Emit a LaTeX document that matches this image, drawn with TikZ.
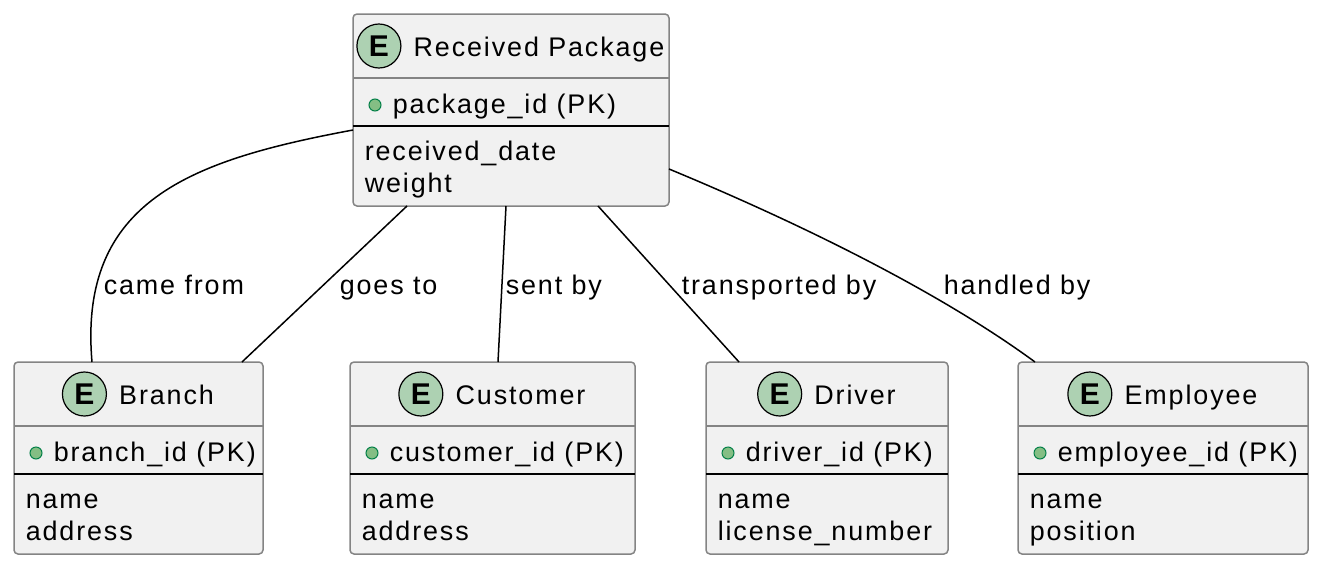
\documentclass[tikz,border=0pt]{standalone}
\usepackage{fontspec}
\setmainfont{Liberation Sans}[LetterSpace=7]
\usetikzlibrary{positioning}
\definecolor{FontColor}{HTML}{000000}
\definecolor{BoxNC}{HTML}{F1F1F1}
\definecolor{BorderNC}{HTML}{848484}
\definecolor{SpotNC}{HTML}{ADD1B2}
\definecolor{KeyNC}{HTML}{84BE84}
\definecolor{DarkKeyNC}{HTML}{038048}
\newcommand\entfont{\fontsize{26.9}{32}\selectfont}
\tikzstyle{entbox} = [rectangle, draw=BorderNC, fill=BoxNC, line width=1.5pt, rounded corners=4pt, minimum height=192pt, inner sep=0pt, outer sep=0pt, anchor=north west]
\tikzstyle{enttitle} = [inner sep=0pt, anchor=base, font=\entfont, text=FontColor]
\tikzstyle{entspot} = [circle, draw=black, fill=SpotNC, line width=1.2pt, minimum size=44pt, inner sep=0pt, font=\fontsize{30}{32}\selectfont\bfseries]
\tikzstyle{entkey} = [circle, draw=DarkKeyNC, fill=KeyNC, line width=1pt, minimum size=12pt, inner sep=0pt]
\tikzstyle{enttext} = [inner sep=0pt, anchor=base west, font=\entfont, text=FontColor]
\tikzstyle{lbl} = [inner sep=0pt, anchor=base west, font=\entfont, text=FontColor]
\tikzset{every picture/.style={line width=1.5pt}}
% name, left, right, top, title, key, field, field
\newcommand\entity[8]{%
\pgfmathsetmacro\entw{#3-#2}%
\pgfmathsetmacro\entc{(#3+#2)/2}%
\node[entbox, minimum width=\entw pt] (#1) at (#2,#4) {};
\node[enttitle] (#1t) at (\entc+28,#4+42) {#5};
\node[entspot] (#1s) at ([xshift=-34pt,yshift=10pt]#1t.base west) {E};
\draw[draw=BorderNC, line width=1.2pt] ([yshift=-64pt]#1.north west) -- ([yshift=-64pt]#1.north east);
\draw[line width=1.6pt] ([yshift=-112pt]#1.north west) -- ([yshift=-112pt]#1.north east);
\node[entkey] (#1k) at (#2+22,#4+91) {};
\node[enttext] (#1p) at (#2+39,#4+99) {#6};
\node[enttext] (#1a) at (#2+11,#4+146) {#7};
\node[enttext] (#1b) at (#2+11,#4+178) {#8};
}

\begin{document}
\begin{tikzpicture}[x=1pt, y=-1pt]
\useasboundingbox (0,0) rectangle (1322,568);
\entity{rp}{353}{669}{14}{Received Package}{package\_id (PK)}{received\_date}{weight}
\entity{br}{14}{263}{362}{Branch}{branch\_id (PK)}{name}{address}
\entity{cu}{350}{635}{362}{Customer}{customer\_id (PK)}{name}{address}
\entity{dr}{706}{948}{362}{Driver}{driver\_id (PK)}{name}{license\_number}
\entity{em}{1018}{1308}{362}{Employee}{employee\_id (PK)}{name}{position}
\draw ([yshift=-20pt]rp.west) .. controls (192,160) and (78,200) .. ([xshift=78pt]br.north west);
\draw ([xshift=54pt]rp.south west) -- ([xshift=-21pt]br.north east);
\draw ([xshift=153pt]rp.south west) -- ([xshift=148pt]cu.north west);
\draw ([xshift=245pt]rp.south west) -- ([xshift=33pt]dr.north west);
\draw ([yshift=37pt]rp.south east) .. controls (780,215) and (930,285) .. ([xshift=17pt]em.north west);
\node[lbl] (lcame) at (103,294) {came from};
\node[lbl] (lgoes) at (339,294) {goes to};
\node[lbl] (lsent) at (505,294) {sent by};
\node[lbl] (ltrans) at (681,294) {transported by};
\node[lbl] (lhand) at (943,294) {handled by};
\end{tikzpicture}
\end{document}
